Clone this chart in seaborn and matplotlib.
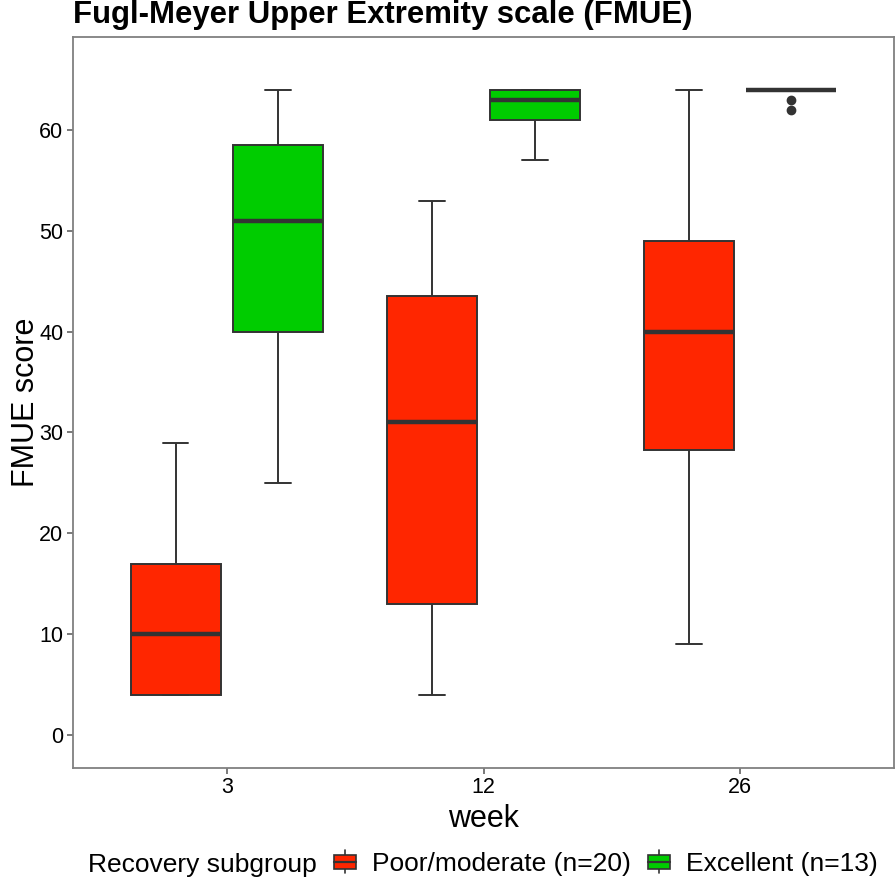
import matplotlib
matplotlib.use("Agg")
import matplotlib.pyplot as plt
from matplotlib.legend_handler import HandlerBase
from matplotlib.patches import Rectangle, Patch
from matplotlib.lines import Line2D
import seaborn as sns
import pandas as pd

# ---- data ----
weeks = ["3", "12", "26"]
groups = ["Poor/moderate (n=20)", "Excellent (n=13)"]
colors = ["#FF2600", "#00CC00"]

poor_w3 = [4, 4, 4, 4, 4, 4, 6, 8, 9, 10, 10, 12, 14, 16, 17, 17, 20, 23, 26, 29]
poor_w12 = [4, 6, 8, 11, 13, 13, 18, 24, 28, 31, 31, 34, 38, 41, 43, 45, 47, 50, 52, 53]
poor_w26 = [9, 14, 18, 22, 26, 29, 33, 36, 38, 40, 40, 42, 45, 47, 49, 49, 53, 57, 61, 64]
exc_w3 = [25, 30, 36, 40, 45, 49, 51, 53, 56, 58.5, 61, 63, 64]
exc_w12 = [57, 59, 60, 61, 62, 62, 63, 63, 64, 64, 64, 64, 64]
exc_w26 = [62, 63, 64, 64, 64, 64, 64, 64, 64, 64, 64, 64, 64]

rows = []
for wk, vals in zip(weeks, [poor_w3, poor_w12, poor_w26]):
    rows += [(wk, groups[0], v) for v in vals]
for wk, vals in zip(weeks, [exc_w3, exc_w12, exc_w26]):
    rows += [(wk, groups[1], v) for v in vals]
df = pd.DataFrame(rows, columns=["week", "group", "score"])

sns.set_theme(style="white")
plt.rcParams["font.family"] = ["Liberation Sans", "DejaVu Sans"]
plt.rcParams["text.color"] = "black"

fig = plt.figure(figsize=(8.96, 8.81), dpi=100)
ax = fig.add_axes([73 / 896, 1 - 767.7 / 881, 821 / 896, 731 / 881])

edge = "#333333"
sns.boxplot(
    data=df, x="week", y="score", hue="group",
    order=weeks, hue_order=groups, palette=colors, saturation=1,
    width=0.8, gap=0.125, linecolor=edge, linewidth=1.4,
    medianprops=dict(linewidth=3.2, color=edge),
    flierprops=dict(marker="o", markersize=6, markerfacecolor=edge,
                    markeredgecolor=edge),
    capwidths=0.1, legend=False, ax=ax,
)

ax.set_xlim(-0.6, 2.6)
ax.set_ylim(-3.25, 69.25)
ax.set_yticks([0, 10, 20, 30, 40, 50, 60])
ax.tick_params(axis="both", labelsize=15.5, colors="#555555", labelcolor="black",
               length=4, width=1.1, direction="out", pad=3,
               left=True, bottom=True)
for sp in ax.spines.values():
    sp.set_color("#808080")
    sp.set_linewidth(1.3)
ax.grid(False)

ax.set_xlabel("week", fontsize=22, color="black", va="baseline")
ax.xaxis.set_label_coords(0.5, -59.3 / 731)
ax.set_ylabel("FMUE score", fontsize=22, color="black", va="center")
ax.yaxis.set_label_coords(-47 / 821, 0.5)

fig.text(73 / 896, 1 - 23 / 881, "Fugl-Meyer Upper Extremity scale (FMUE)",
         fontsize=22.4, fontweight="bold", ha="left", va="baseline", color="black")


class BoxHandler(HandlerBase):
    def create_artists(self, legend, orig_handle, xdescent, ydescent,
                       width, height, fontsize, trans):
        x0, y0 = -xdescent, -ydescent
        cx = x0 + width / 2
        vline = Line2D([cx, cx], [y0 - 0.1 * height, y0 + 1.1 * height],
                       color=edge, lw=1.2, transform=trans)
        rect = Rectangle((x0, y0 + 0.12 * height), width, 0.76 * height,
                         facecolor=orig_handle.get_facecolor(), edgecolor=edge,
                         lw=1.2, transform=trans)
        med = Line2D([x0, x0 + width], [y0 + 0.5 * height] * 2,
                     color=edge, lw=1.6, transform=trans)
        return [vline, rect, med]


handles = [Patch(facecolor=c, label=g) for c, g in zip(colors, groups)]
leg = fig.legend(
    handles=handles, labels=groups, handler_map={Patch: BoxHandler()},
    loc="center left", bbox_to_anchor=(334 / 896, 1 - 864 / 881),
    ncol=2, frameon=False, fontsize=19, borderpad=0, borderaxespad=0,
    handlelength=0.83, handleheight=0.72, handletextpad=0.6,
    columnspacing=0.65, labelcolor="black",
)
fig.text(88 / 896, 1 - 872 / 881, "Recovery subgroup", fontsize=19,
         ha="left", va="baseline", color="black")

fig.savefig("out.png", dpi=100)
